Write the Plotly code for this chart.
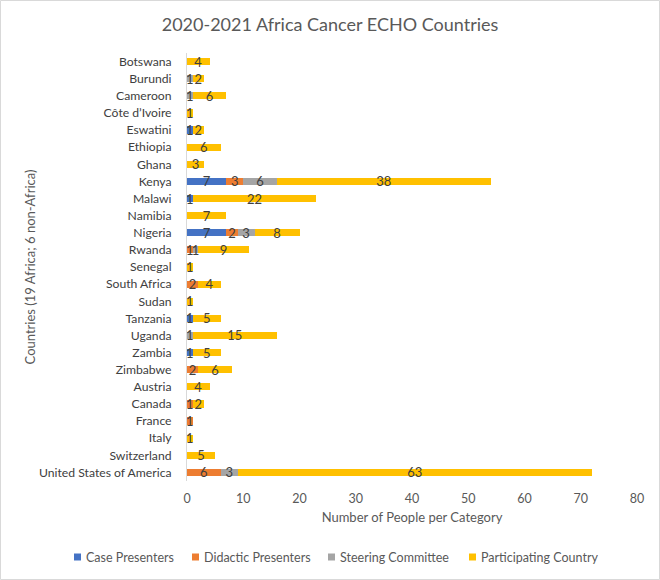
import plotly.graph_objects as go

countries = ["Botswana", "Burundi", "Cameroon", "Côte d’Ivoire", "Eswatini", "Ethiopia", "Ghana",
             "Kenya", "Malawi", "Namibia", "Nigeria", "Rwanda", "Senegal", "South Africa", "Sudan",
             "Tanzania", "Uganda", "Zambia", "Zimbabwe", "Austria", "Canada", "France", "Italy",
             "Switzerland", "United States of America"]

case_presenters = [None, None, None, None, 1, None, None, 7, 1, None, 7, None, None, None, None,
                   1, None, 1, None, None, None, None, None, None, None]
didactic_presenters = [None, None, None, None, None, None, None, 3, None, None, 2, 1, None, 2, None,
                       None, None, None, 2, None, 1, 1, None, None, 6]
steering_committee = [None, 1, 1, None, None, None, None, 6, None, None, 3, 1, None, None, None,
                      None, 1, None, None, None, None, None, None, None, 3]
participating_country = [4, 2, 6, 1, 2, 6, 3, 38, 22, 7, 8, 9, 1, 4, 1,
                         5, 15, 5, 6, 4, 2, None, 1, 5, 63]

series_names = ["Case Presenters", "Didactic Presenters", "Steering Committee", "Participating Country"]
series_values = [case_presenters, didactic_presenters, steering_committee, participating_country]
series_colors = ["#4472C4", "#ED7D31", "#A5A5A5", "#FFC000"]

FONT = "Lato, Open Sans, sans-serif"
TXT = "#404040"

fig = go.Figure()
for name, vals, color in zip(series_names, series_values, series_colors):
    fig.add_trace(go.Bar(
        y=countries, x=vals, name=name, orientation="h",
        marker=dict(color=color, line=dict(width=0)),
        text=[("" if v is None else str(v)) for v in vals],
        textposition="inside", insidetextanchor="middle", textangle=0,
        constraintext="none",
        textfont=dict(family=FONT, size=13, color=TXT),
        hoverinfo="x+y+name",
        showlegend=False,
    ))

L, R, T, B = 187, 23, 53, 99
W, H = 660, 580
pw, ph = W - L - R, H - T - B


def px_x(x):
    return (x - L) / pw


def px_y(y):
    return 1 - (y - T) / ph


fig.update_layout(
    width=W, height=H,
    barmode="stack", bargap=0.58,
    margin=dict(l=L, r=R, t=T, b=B, autoexpand=False),
    paper_bgcolor="white", plot_bgcolor="white",
    font=dict(family=FONT, size=12, color=TXT),
    title=dict(text="2020-2021 Africa Cancer ECHO Countries", x=0.5, xanchor="center",
               y=1 - 25 / H, yanchor="middle", font=dict(size=18, color="#595959", family=FONT)),
    xaxis=dict(range=[0, 80], dtick=10, showgrid=False, zeroline=False, showline=False,
               ticks="", ticklabelstandoff=8, tickfont=dict(size=12.5, color="#595959"),
               title=dict(text="Number of People per Category", standoff=8,
                          font=dict(size=13, color="#595959"))),
    yaxis=dict(autorange="reversed", showgrid=False, zeroline=False, showline=True,
               linecolor="#D9D9D9", linewidth=1, ticks="", ticklabelstandoff=12,
               tickfont=dict(size=12.2, color=TXT),
               title=dict(text="Countries (19 Africa; 6 non-Africa)", standoff=0,
                          font=dict(size=13, color="#595959"))),
    showlegend=False,
)

# legend drawn as small squares + labels (Excel-style compact legend)
legend_x = [74, 192, 328, 469]
legend_y = 557
for xs, name, color in zip(legend_x, series_names, series_colors):
    fig.add_shape(type="rect", xref="paper", yref="paper",
                  x0=px_x(xs), x1=px_x(xs + 7), y0=px_y(legend_y + 3.5), y1=px_y(legend_y - 3.5),
                  line=dict(width=0), fillcolor=color)
    fig.add_annotation(xref="paper", yref="paper", x=px_x(xs + 10), y=px_y(legend_y),
                       xanchor="left", yanchor="middle", text=name, showarrow=False,
                       font=dict(size=12.5, color="#595959", family=FONT))

fig.add_shape(type="rect", xref="paper", yref="paper",
              x0=px_x(0.5), x1=px_x(W - 0.5), y0=px_y(H - 0.5), y1=px_y(0.5),
              line=dict(color="#D9D9D9", width=1), fillcolor="rgba(0,0,0,0)", layer="below")

fig.write_html("out.html")
